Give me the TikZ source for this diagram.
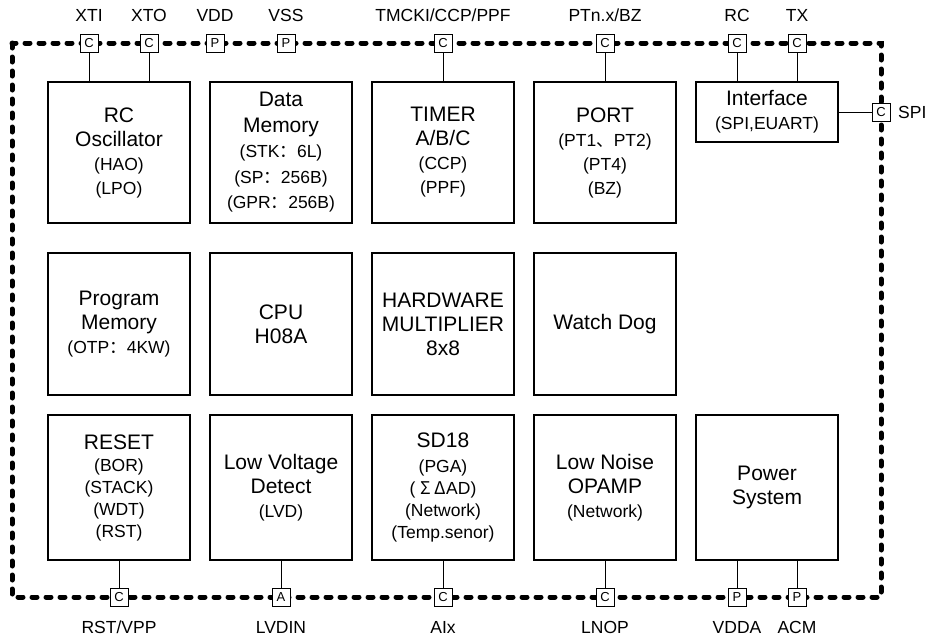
\documentclass[tikz,border=0pt]{standalone}
\usepackage{fontspec}
\setmainfont{Liberation Sans}
\newfontfamily\cjk{Noto Sans CJK SC}
\usetikzlibrary{positioning,calc}
\newcommand{\subl}[1]{{\fontsize{17.5}{24}\selectfont #1}}

\begin{document}
\begin{tikzpicture}[x=1pt, y=-1pt, node distance=20pt,
    block/.style={rectangle, draw, line width=1.2pt, minimum width=142pt, minimum height=141pt, inner sep=2pt, outer sep=0pt, align=center, font=\fontsize{21}{24}\selectfont},
    padbox/.style={rectangle, draw, fill=white, line width=1pt, minimum size=18pt, inner sep=0pt, outer sep=0pt, font=\fontsize{13}{13}\selectfont},
    pinlbl/.style={font=\fontsize{17.5}{20}\selectfont, inner sep=0pt, text height=12.5pt, text depth=0pt},
    toplbl/.style={pinlbl, yshift=12pt},
    botlbl/.style={pinlbl, yshift=-14.5pt},
    border/.style={line width=5pt, dash pattern=on 5pt off 9pt, line cap=round},
    stem/.style={line width=1pt}]
    \useasboundingbox (0,0) rectangle (932,638);
    \coordinate (tl) at (12,43);
    \coordinate (br) at (881,597);

    % first row
    \node (osc) [block] at (119,152.5) {RC \\ Oscillator \\ \subl{(HAO)} \\ \subl{(LPO)}};
    \node (dmem) [block, right=of osc, font=\fontsize{21}{25.5}\selectfont] {Data \\ Memory \\ \subl{(STK{\cjk ：}6L)} \\ \subl{(SP{\cjk ：}256B)} \\ \subl{(GPR{\cjk ：}256B)}};
    \node (timer) [block, right=of dmem] {TIMER \\ A/B/C \\ \subl{(CCP)} \\ \subl{(PPF)}};
    \node (port) [block, right=of timer] {PORT \\ \subl{(PT1{\cjk 、}PT2)} \\ \subl{(PT4)} \\ \subl{(BZ)}};
    \node (iface) [block, minimum height=60pt, right=of port.north east, anchor=north west] {Interface \\ \subl{(SPI,EUART)}};

    % second row
    \node (pmem) [block, minimum height=142pt, below=30pt of osc] {Program \\ Memory \\ \subl{(OTP{\cjk ：}4KW)}};
    \node (cpu) [block, minimum height=142pt, right=of pmem] {CPU \\ H08A};
    \node (mult) [block, minimum height=142pt, right=of cpu] {HARDWARE \\ MULTIPLIER \\ 8x8};
    \node (wdog) [block, minimum height=142pt, right=of mult] {Watch Dog};

    % third row
    \node (reset) [block, minimum height=145pt, below=of pmem, font=\fontsize{21}{22}\selectfont] {RESET \\ \subl{(BOR)} \\ \subl{(STACK)} \\ \subl{(WDT)} \\ \subl{(RST)}};
    \node (lvd) [block, minimum height=145pt, right=of reset] {Low Voltage \\ Detect \\ \subl{(LVD)}};
    \node (sd) [block, minimum height=145pt, right=of lvd, font=\fontsize{21}{22}\selectfont] {SD18 \\[3pt] \subl{(PGA)} \\ \subl{( {\cjk Σ Δ}AD)} \\ \subl{(Network)} \\ \subl{(Temp.senor)}};
    \node (opamp) [block, minimum height=145pt, right=of sd] {Low Noise \\ OPAMP \\ \subl{(Network)}};
    \node (power) [block, minimum height=145pt, right=of opamp] {Power \\ System};

    % chip outline
    \draw[border] (tl) rectangle (br);

    % pins on top
    \node (pxti) [padbox, label={[toplbl]above:XTI}] at ($(osc.north |- tl)+(-30,0)$) {C};
    \node (pxto) [padbox, label={[toplbl]above:XTO}] at ($(osc.north |- tl)+(30,0)$) {C};
    \node (pvdd) [padbox, label={[toplbl]above:VDD}] at (215,43) {P};
    \node (pvss) [padbox, label={[toplbl]above:VSS}] at (286,43) {P};
    \node (ptmr) [padbox, label={[toplbl]above:TMCKI/CCP/PPF}] at (timer.north |- tl) {C};
    \node (pport) [padbox, label={[toplbl]above:PTn.x/BZ}] at (port.north |- tl) {C};
    \node (prc) [padbox, label={[toplbl]above:RC}] at ($(iface.north |- tl)+(-30,0)$) {C};
    \node (ptx) [padbox, label={[toplbl]above:TX}] at ($(iface.north |- tl)+(30,0)$) {C};
    \node (pspi) [padbox, label={[pinlbl, xshift=8pt]right:SPI}] at (iface -| br) {C};

    % pins at the bottom
    \node (prst) [padbox, label={[botlbl]below:RST/VPP}] at (reset.south |- br) {C};
    \node (plvd) [padbox, label={[botlbl]below:LVDIN}] at (lvd.south |- br) {A};
    \node (paix) [padbox, label={[botlbl]below:AIx}] at (sd.south |- br) {C};
    \node (plnop) [padbox, label={[botlbl]below:LNOP}] at (opamp.south |- br) {C};
    \node (pvdda) [padbox, label={[botlbl]below:VDDA}] at ($(power.south |- br)+(-30,0)$) {P};
    \node (pacm) [padbox, label={[botlbl]below:ACM}] at ($(power.south |- br)+(30,0)$) {P};

    \draw[stem] (pxti) -- (pxti |- osc.north);
    \draw[stem] (pxto) -- (pxto |- osc.north);
    \draw[stem] (ptmr) -- (timer);
    \draw[stem] (pport) -- (port);
    \draw[stem] (prc) -- (prc |- iface.north);
    \draw[stem] (ptx) -- (ptx |- iface.north);
    \draw[stem] (iface) -- (pspi);
    \draw[stem] (prst) -- (reset);
    \draw[stem] (plvd) -- (lvd);
    \draw[stem] (paix) -- (sd);
    \draw[stem] (plnop) -- (opamp);
    \draw[stem] (pvdda) -- (pvdda |- power.south);
    \draw[stem] (pacm) -- (pacm |- power.south);
\end{tikzpicture}
\end{document}
